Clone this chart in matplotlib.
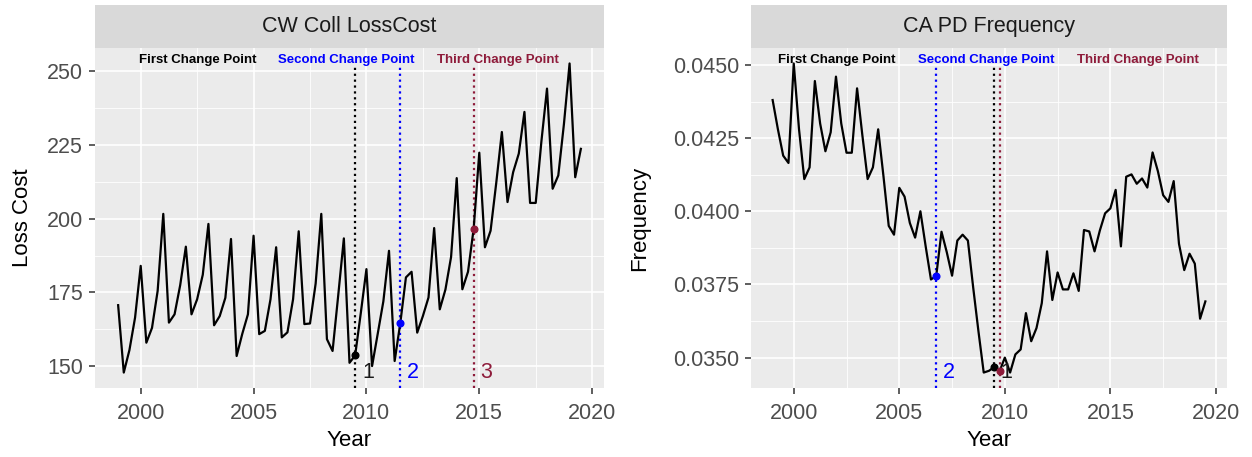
import matplotlib
matplotlib.use("Agg")
import matplotlib.pyplot as plt
import numpy as np

plt.rcParams['font.family'] = ['Liberation Sans', 'DejaVu Sans']

# quarterly time index, 1999 Q1 .. 2019 Q3
quarters = np.arange(1999.0, 2019.75, 0.25)

cw_loss_cost = [
    170.7, 147.9, 155.5, 166.5,
    184.0, 158.0, 163.0, 175.5,
    201.6, 164.8, 167.6, 177.5,
    190.5, 167.6, 172.7, 181.0,
    198.2, 163.9, 167.0, 173.2,
    193.1, 153.5, 161.0, 167.6,
    194.2, 160.9, 162.0, 172.7,
    190.3, 159.8, 161.5, 172.7,
    195.7, 164.3, 164.5, 178.0,
    201.6, 159.2, 155.2, 174.0,
    193.3, 151.2, 153.7, 168.0,
    182.9, 150.1, 161.0, 172.0,
    189.1, 151.8, 164.6, 180.1,
    182.0, 161.4, 167.0, 173.3,
    196.8, 169.3, 176.0, 187.0,
    213.7, 176.1, 182.0, 196.5,
    222.3, 190.3, 195.9, 212.0,
    229.3, 205.6, 215.7, 222.0,
    236.1, 205.3, 205.3, 226.0,
    244.0, 210.1, 214.6, 232.0,
    252.5, 214.0, 223.6,
]

ca_pd_freq = [
    0.04380, 0.04280, 0.04190, 0.04165,
    0.04505, 0.04280, 0.04110, 0.04150,
    0.04445, 0.04300, 0.04205, 0.04270,
    0.04460, 0.04300, 0.04200, 0.04200,
    0.04420, 0.04260, 0.04110, 0.04150,
    0.04280, 0.04120, 0.03950, 0.03920,
    0.04080, 0.04050, 0.03960, 0.03910,
    0.04000, 0.03880, 0.03767, 0.03779,
    0.03930, 0.03860, 0.03780, 0.03900,
    0.03920, 0.03900, 0.03740, 0.03590,
    0.03449, 0.03455, 0.03468, 0.03453,
    0.03500, 0.03449, 0.03511, 0.03528,
    0.03652, 0.03556, 0.03601, 0.03686,
    0.03863, 0.03697, 0.03791, 0.03733,
    0.03733, 0.03788, 0.03728, 0.03936,
    0.03931, 0.03863, 0.03934, 0.03993,
    0.04010, 0.04073, 0.03880, 0.04118,
    0.04126, 0.04094, 0.04112, 0.04081,
    0.04201, 0.04137, 0.04055, 0.04032,
    0.04103, 0.03889, 0.03799, 0.03855,
    0.03821, 0.03633, 0.03692,
]

# change points (first, second, third)
cw_change_years = [2009.5, 2011.5, 2014.75]
ca_change_years = [2009.5, 2006.75, 2009.75]
cp_names = ['First Change Point', 'Second Change Point', 'Third Change Point']
cp_colors = ['#000000', '#0000FF', '#8E1B3A']
cp_numbers = ['1', '2', '3']
cw_shown_numbers = [0, 1, 2]
ca_shown_numbers = [0, 1]

W, H = 1252, 457
fig = plt.figure(figsize=(W / 100, H / 100), dpi=100)


def px_box(x0, x1, y_top, y_bot):
    return [x0 / W, 1 - y_bot / H, (x1 - x0) / W, (y_bot - y_top) / H]


def draw_panel(x0, x1, title, series, change_years, shown, ylabel, yfmt,
               yticks, name_pos, ylab_x):
    ax = fig.add_axes(px_box(x0, x1, 48, 388))
    strip = fig.add_axes(px_box(x0, x1, 5, 48))
    strip.set_facecolor('#D9D9D9')
    strip.set_xticks([]); strip.set_yticks([])
    for s in strip.spines.values():
        s.set_visible(False)
    strip.text(0.5, 0.5, title, ha='center', va='center', fontsize=15.5,
               color='#1A1A1A', transform=strip.transAxes)

    vals = np.array(series)
    ax.set_facecolor('#EBEBEB')
    for s in ax.spines.values():
        s.set_visible(False)

    xr = quarters[-1] - quarters[0]
    ax.set_xlim(quarters[0] - 0.05 * xr, quarters[-1] + 0.05 * xr)
    yr = vals.max() - vals.min()
    ax.set_ylim(vals.min() - 0.05 * yr, vals.max() + 0.05 * yr)

    xt = [2000, 2005, 2010, 2015, 2020]
    ax.set_xticks(xt)
    ax.set_xticks([2002.5, 2007.5, 2012.5, 2017.5], minor=True)
    ax.set_yticks(yticks)
    step = yticks[1] - yticks[0]
    ax.set_yticks([t + step / 2 for t in yticks[:-1]], minor=True)
    ax.set_yticklabels([yfmt % t for t in yticks])
    ax.grid(which='major', color='white', lw=1.2)
    ax.grid(which='minor', color='white', lw=0.6)
    ax.set_axisbelow(True)
    ax.tick_params(which='major', length=4.5, width=1.1, color='#333333',
                   labelsize=15.5, labelcolor='#4D4D4D')
    ax.tick_params(axis='y', pad=4)
    ax.tick_params(axis='x', pad=6)
    ax.tick_params(which='minor', length=0)

    ax.plot(quarters, vals, color='black', lw=1.6, zorder=3)

    for i, yr_cp in enumerate(change_years):
        ax.axvline(yr_cp, ymin=0, ymax=0.945, color=cp_colors[i], ls=':',
                   lw=1.6, zorder=2)
        k = int(np.argmin(np.abs(quarters - yr_cp)))
        ax.plot(quarters[k], vals[k], 'o', color=cp_colors[i], ms=4.8,
                zorder=4)
        ax.text(name_pos[i], 0.965, cp_names[i], transform=ax.transAxes,
                ha='center', va='center', fontsize=9.5, fontweight='bold',
                color=cp_colors[i])
    for i in shown:
        ax.text(change_years[i] + 0.3, 0.045, cp_numbers[i],
                transform=ax.get_xaxis_transform(), ha='left', va='center',
                fontsize=15.5, color=cp_colors[i] if i else '#1A1A1A',
                zorder=5)

    ax.set_xlabel('Year', fontsize=16)
    ax.xaxis.set_label_coords(0.5, -0.125)
    ax.set_ylabel(ylabel, fontsize=16)
    ax.yaxis.set_label_coords(ylab_x, 0.5)
    return ax


draw_panel(95, 604, 'CW Coll LossCost', cw_loss_cost, cw_change_years,
           cw_shown_numbers, 'Loss Cost', '%d', [150, 175, 200, 225, 250],
           [0.201, 0.494, 0.792], -0.122)
draw_panel(751, 1227, 'CA PD Frequency', ca_pd_freq, ca_change_years,
           ca_shown_numbers, 'Frequency', '%.4f',
           [0.0350, 0.0375, 0.0400, 0.0425, 0.0450],
           [0.181, 0.494, 0.812], -0.212)

fig.savefig('out.png', dpi=100)
